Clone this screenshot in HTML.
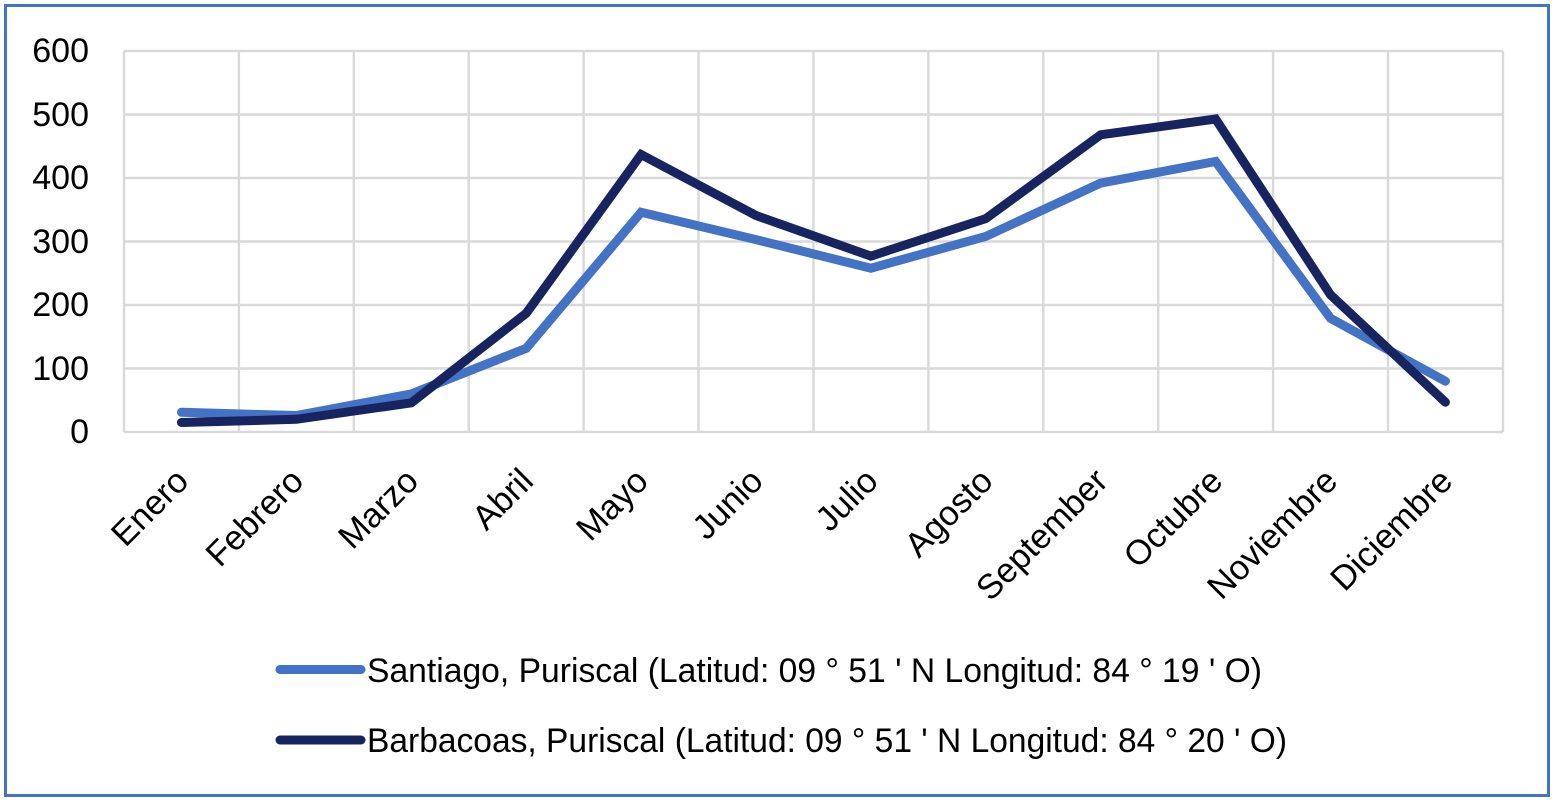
<!DOCTYPE html>
<html>
<head>
<meta charset="utf-8">
<style>
html,body{margin:0;padding:0;background:#fff;}
svg{display:block;}
text{font-family:"Liberation Sans",Arial,sans-serif;fill:#000;}
</style>
</head>
<body>
<svg width="1558" height="805" viewBox="0 0 1558 805" xmlns="http://www.w3.org/2000/svg">
<rect x="0" y="0" width="1558" height="805" fill="#fff"/>
<rect x="5.5" y="5.5" width="1543" height="790" fill="none" stroke="#4472C4" stroke-width="3"/>

<!-- gridlines -->
<g stroke="#d9d9d9" stroke-width="2.4" fill="none">
<line x1="124" y1="51" x2="1503" y2="51"/>
<line x1="124" y1="114.5" x2="1503" y2="114.5"/>
<line x1="124" y1="178" x2="1503" y2="178"/>
<line x1="124" y1="241.5" x2="1503" y2="241.5"/>
<line x1="124" y1="305" x2="1503" y2="305"/>
<line x1="124" y1="368.5" x2="1503" y2="368.5"/>
<line x1="124" y1="432" x2="1503" y2="432"/>
<line x1="124" y1="51" x2="124" y2="432"/>
<line x1="238.9" y1="51" x2="238.9" y2="432"/>
<line x1="353.8" y1="51" x2="353.8" y2="432"/>
<line x1="468.7" y1="51" x2="468.7" y2="432"/>
<line x1="583.6" y1="51" x2="583.6" y2="432"/>
<line x1="698.5" y1="51" x2="698.5" y2="432"/>
<line x1="813.5" y1="51" x2="813.5" y2="432"/>
<line x1="928.4" y1="51" x2="928.4" y2="432"/>
<line x1="1043.3" y1="51" x2="1043.3" y2="432"/>
<line x1="1158.2" y1="51" x2="1158.2" y2="432"/>
<line x1="1273.1" y1="51" x2="1273.1" y2="432"/>
<line x1="1388" y1="51" x2="1388" y2="432"/>
<line x1="1503" y1="51" x2="1503" y2="432"/>
</g>

<!-- y labels -->
<g font-size="34" text-anchor="end">
<text x="89" y="62">600</text>
<text x="89" y="126">500</text>
<text x="89" y="189">400</text>
<text x="89" y="253">300</text>
<text x="89" y="316">200</text>
<text x="89" y="380">100</text>
<text x="89" y="443">0</text>
</g>

<!-- series -->
<polyline fill="none" stroke="#4472C4" stroke-width="9" stroke-linecap="round" stroke-linejoin="miter"
points="181.5,412.3 296.4,415.5 411.3,393.9 526.2,348.3 641.1,212.3 756,239.6 870.9,268.2 985.8,236.4 1100.7,183.1 1215.6,161.5 1330.5,318.3 1445.4,381.2"/>
<polyline fill="none" stroke="#172460" stroke-width="9" stroke-linecap="round" stroke-linejoin="miter"
points="181.5,422.5 296.4,419.3 411.3,402.8 526.2,313.3 641.1,154.5 756,215.5 870.9,256.1 985.8,218.6 1100.7,134.8 1215.6,119 1330.5,294.8 1445.4,402.2"/>

<!-- x labels -->
<g font-size="34.5" text-anchor="end">
<text transform="translate(190.5,483) rotate(-45)">Enero</text>
<text transform="translate(305.4,483) rotate(-45)">Febrero</text>
<text transform="translate(420.3,483) rotate(-45)">Marzo</text>
<text transform="translate(535.2,483) rotate(-45)">Abril</text>
<text transform="translate(650.1,483) rotate(-45)">Mayo</text>
<text transform="translate(765,483) rotate(-45)">Junio</text>
<text transform="translate(879.9,483) rotate(-45)">Julio</text>
<text transform="translate(994.8,483) rotate(-45)">Agosto</text>
<text transform="translate(1109.7,483) rotate(-45)">September</text>
<text transform="translate(1224.6,483) rotate(-45)">Octubre</text>
<text transform="translate(1339.5,483) rotate(-45)">Noviembre</text>
<text transform="translate(1454.4,483) rotate(-45)">Diciembre</text>
</g>

<!-- legend -->
<line x1="280" y1="669.5" x2="361" y2="669.5" stroke="#4472C4" stroke-width="9" stroke-linecap="round"/>
<line x1="280" y1="740" x2="361" y2="740" stroke="#172460" stroke-width="9" stroke-linecap="round"/>
<text x="367" y="682" font-size="34" textLength="895" lengthAdjust="spacingAndGlyphs">Santiago, Puriscal (Latitud: 09 ° 51 ' N Longitud: 84 ° 19 ' O)</text>
<text x="367" y="752" font-size="34" textLength="920" lengthAdjust="spacingAndGlyphs">Barbacoas, Puriscal (Latitud: 09 ° 51 ' N Longitud: 84 ° 20 ' O)</text>
</svg>
</body>
</html>
